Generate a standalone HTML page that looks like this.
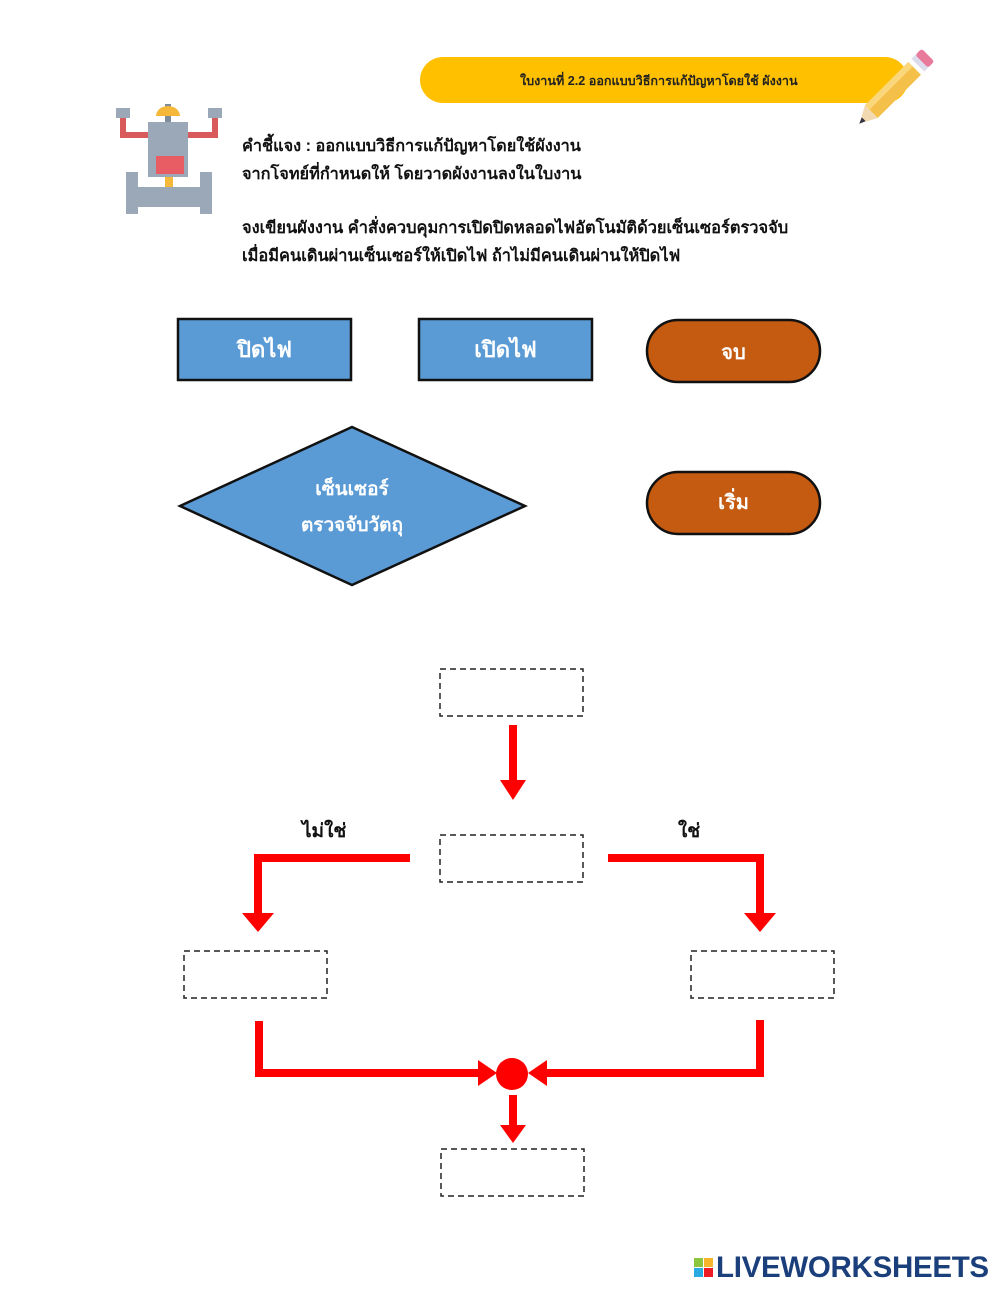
<!DOCTYPE html>
<html><head><meta charset="utf-8"><style>
body{margin:0;width:1000px;height:1294px;background:#fff;position:relative;overflow:hidden;font-family:"Liberation Sans","Noto Sans CJK SC",sans-serif}
.t{position:absolute;white-space:nowrap}
</style></head><body>
<svg width="1000" height="1294" style="position:absolute;left:0;top:0">
<path d="M443,57 H885 A23,23 0 0 1 885,103 H443 A23,23 0 0 1 443,57 Z" fill="#ffc000"/>
<g transform="translate(886,97) rotate(45) scale(0.9)">
<rect x="-10" y="-45" width="20" height="68" fill="#f5c04a"/>
<rect x="-10" y="-45" width="7" height="68" fill="#f9d77a"/>
<rect x="-10" y="-58" width="20" height="8" fill="#dde"/>
<rect x="-10" y="-66" width="20" height="10" rx="3" fill="#e87b9b"/>
<polygon points="-10,23 10,23 0,42" fill="#f3d9b1"/>
<polygon points="-3,35 3,35 0,42" fill="#334"/>
</g>
<rect x="165" y="104" width="6" height="18" fill="#7f8c9a"/>
<path d="M156,116 a12,10 0 0 1 24,0 z" fill="#f5b83a"/>
<rect x="148" y="122" width="40" height="55" fill="#9aa8b8"/>
<rect x="156" y="156" width="28" height="18" fill="#e85d63"/>
<rect x="122" y="132" width="26" height="6" fill="#d95a5a"/><rect x="188" y="132" width="26" height="6" fill="#d95a5a"/>
<rect x="120" y="112" width="6" height="26" fill="#d95a5a"/><rect x="212" y="112" width="6" height="26" fill="#d95a5a"/>
<rect x="116" y="108" width="14" height="10" fill="#9aa8b8"/><rect x="208" y="108" width="14" height="10" fill="#9aa8b8"/>
<rect x="165" y="177" width="8" height="10" fill="#f5b83a"/>
<rect x="134" y="187" width="70" height="20" fill="#9aa8b8"/>
<rect x="126" y="172" width="12" height="42" fill="#9aa8b8"/><rect x="200" y="172" width="12" height="42" fill="#9aa8b8"/>
<rect x="178" y="319" width="173" height="61" fill="#5b9bd5" stroke="#111" stroke-width="2.5"/>
<rect x="419" y="319" width="173" height="61" fill="#5b9bd5" stroke="#111" stroke-width="2.5"/>
<rect x="647" y="320" width="173" height="62" rx="31" fill="#c55a11" stroke="#111" stroke-width="2.5"/>
<rect x="647" y="472" width="173" height="62" rx="31" fill="#c55a11" stroke="#111" stroke-width="2.5"/>
<polygon points="352,427 525,506 352,585 180,506" fill="#5b9bd5" stroke="#111" stroke-width="2.5"/>
<g fill="none" stroke="#222" stroke-width="1.5" stroke-dasharray="6,4">
<rect x="440" y="669" width="143" height="47"/>
<rect x="440" y="835" width="143" height="47"/>
<rect x="184" y="951" width="143" height="47"/>
<rect x="691" y="951" width="143" height="47"/>
<rect x="441" y="1149" width="143" height="47"/>
</g>
<g stroke="#f00" stroke-width="8" fill="none">
<line x1="513" y1="725" x2="513" y2="784"/>
<polyline points="410,858 258,858 258,916"/>
<polyline points="608,858 760,858 760,916"/>
<polyline points="259,1021 259,1073 482,1073"/>
<polyline points="760,1020 760,1073 542,1073"/>
<line x1="513" y1="1095" x2="513" y2="1128"/>
</g>
<g fill="#f00">
<polygon points="500,780 526,780 513,800"/>
<polygon points="242,913 274,913 258,932"/>
<polygon points="744,913 776,913 760,932"/>
<polygon points="478,1060 478,1086 497,1073"/>
<polygon points="547,1060 547,1086 528,1073"/>
<polygon points="500,1125 526,1125 513,1143"/>
<circle cx="512" cy="1074" r="16"/>
</g>
<rect x="694" y="1258" width="9" height="9" fill="#8cc63f"/><rect x="704" y="1258" width="9" height="9" fill="#f7b52c"/>
<rect x="694" y="1268" width="9" height="9" fill="#29abe2"/><rect x="704" y="1268" width="9" height="9" fill="#ed1c24"/>
</svg>
<div class="t" style="left:520px;top:71px;font-size:12.6px;font-weight:bold;color:#222">ใบงานที่ 2.2 ออกแบบวิธีการแก้ปัญหาโดยใช้ ผังงาน</div>
<div class="t" style="left:242px;top:132px;font-size:16.3px;font-weight:bold;line-height:28px;color:#111">คำชี้แจง : ออกแบบวิธีการแก้ปัญหาโดยใช้ผังงาน<br>จากโจทย์ที่กำหนดให้ โดยวาดผังงานลงในใบงาน</div>
<div class="t" style="left:242px;top:214px;font-size:16.4px;font-weight:bold;line-height:28px;color:#111">จงเขียนผังงาน คำสั่งควบคุมการเปิดปิดหลอดไฟอัตโนมัติด้วยเซ็นเซอร์ตรวจจับ<br>เมื่อมีคนเดินผ่านเซ็นเซอร์ให้เปิดไฟ ถ้าไม่มีคนเดินผ่านให้ปิดไฟ</div>
<div class="t" style="left:178px;width:173px;text-align:center;top:332px;font-size:22px;font-weight:bold;color:#fff">ปิดไฟ</div>
<div class="t" style="left:419px;width:173px;text-align:center;top:332px;font-size:22px;font-weight:bold;color:#fff">เปิดไฟ</div>
<div class="t" style="left:647px;width:173px;text-align:center;top:336px;font-size:20px;font-weight:bold;color:#fff">จบ</div>
<div class="t" style="left:647px;width:173px;text-align:center;top:486px;font-size:20px;font-weight:bold;color:#fff">เริ่ม</div>
<div class="t" style="left:252px;width:200px;text-align:center;top:472px;font-size:19px;font-weight:bold;line-height:36px;color:#fff">เซ็นเซอร์<br>ตรวจจับวัตถุ</div>
<div class="t" style="left:302px;top:816px;font-size:19px;font-weight:bold;color:#111">ไม่ใช่</div>
<div class="t" style="left:678px;top:816px;font-size:19px;font-weight:bold;color:#111">ใช่</div>
<div class="t" style="left:716px;top:1251px;font-size:29.5px;font-weight:bold;color:#1b3f7a;letter-spacing:-0.3px">LIVEWORKSHEETS</div>
</body></html>
